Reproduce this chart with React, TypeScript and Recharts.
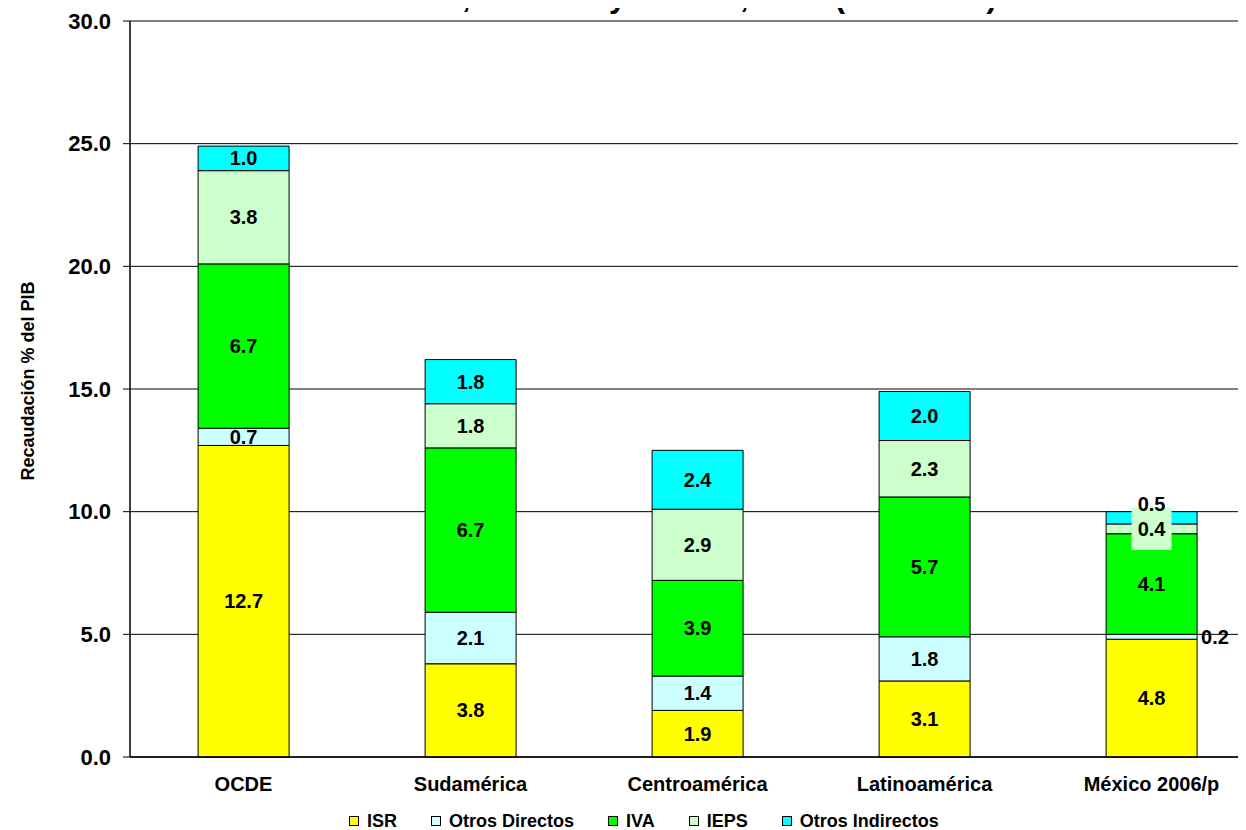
import React from 'react';
import { BarChart, Bar, XAxis, YAxis, CartesianGrid, Legend, Customized } from 'recharts';

const categories = ['OCDE', 'Sudamérica', 'Centroamérica', 'Latinoamérica', 'México 2006/p'];
const isr = [12.7, 3.8, 1.9, 3.1, 4.8];
const otrosDirectos = [0.7, 2.1, 1.4, 1.8, 0.2];
const iva = [6.7, 6.7, 3.9, 5.7, 4.1];
const ieps = [3.8, 1.8, 2.9, 2.3, 0.4];
const otrosIndirectos = [1.0, 1.8, 2.4, 2.0, 0.5];
const yTicks = [0, 5, 10, 15, 20, 25, 30];
const titleText = 'de la OCDE, América y México, 2004 (% del PIB)';
const yAxisTitle = 'Recaudación % del PIB';

const series = [
  { key: 'isr', name: 'ISR', color: '#FFFF00' },
  { key: 'od', name: 'Otros Directos', color: '#CCFFFF' },
  { key: 'iva', name: 'IVA', color: '#00FF00' },
  { key: 'ieps', name: 'IEPS', color: '#CCFFCC' },
  { key: 'oi', name: 'Otros Indirectos', color: '#00FFFF' },
];

const data = categories.map((c, i) => ({
  name: c,
  isr: isr[i],
  od: otrosDirectos[i],
  iva: iva[i],
  ieps: ieps[i],
  oi: otrosIndirectos[i],
}));

const FONT = '"Liberation Sans", Arial, sans-serif';

const makeLabel = (key: string) => (props: any) => {
  const vb = props.viewBox || {};
  const x = props.x ?? vb.x;
  const y = props.y ?? vb.y;
  const w = props.width ?? vb.width;
  const h = props.height ?? vb.height;
  const idx = props.index;
  const row: any = data[idx];
  if (!row) return null;
  const txt = Number(row[key]).toFixed(1);
  const style = { fontFamily: FONT, fontWeight: 700, fontSize: 20, fill: '#000' };
  const cx = x + w / 2;
  const cy = y + h / 2;
  const isLast = idx === categories.length - 1;
  if (isLast && key === 'od') {
    return (
      <text x={x + w + 4} y={cy} dominantBaseline="central" textAnchor="start" style={style}>
        {txt}
      </text>
    );
  }
  if (isLast && key === 'oi') {
    return (
      <text x={cx} y={y - 8} dominantBaseline="central" textAnchor="middle" style={style}>
        {txt}
      </text>
    );
  }
  if (isLast && key === 'ieps') {
    return (
      <g>
        <rect x={cx - 20} y={cy - 21} width={40} height={42} fill="#CCFFCC" />
        <text x={cx} y={cy} dominantBaseline="central" textAnchor="middle" style={style}>
          {txt}
        </text>
      </g>
    );
  }
  return (
    <text x={cx} y={cy} dominantBaseline="central" textAnchor="middle" style={style}>
      {txt}
    </text>
  );
};

const LegendContent = () => (
  <div style={{ display: 'flex', alignItems: 'center', gap: 34, fontFamily: FONT, fontWeight: 700, fontSize: 18, lineHeight: '16px', color: '#000', whiteSpace: 'nowrap' }}>
    {series.map((s) => (
      <div key={s.key} style={{ display: 'flex', alignItems: 'center' }}>
        <span style={{ display: 'inline-block', width: 8, height: 8, background: s.color, border: '1px solid #000', marginRight: 8 }} />
        <span>{s.name}</span>
      </div>
    ))}
  </div>
);

const Title = () => (
  <text x={645} y={7} textAnchor="middle" style={{ fontFamily: FONT, fontWeight: 700, fontSize: 31, fill: '#000' }}>
    {titleText}
  </text>
);

const YTitle = (props: any) => {
  const vb = props.viewBox || {};
  const cy = vb.y + vb.height / 2 - 8;
  return (
    <text
      x={28}
      y={cy}
      transform={`rotate(-90 28 ${cy})`}
      textAnchor="middle"
      dominantBaseline="central"
      style={{ fontFamily: FONT, fontWeight: 700, fontSize: 18, fill: '#000' }}
    >
      {yAxisTitle}
    </text>
  );
};

export default function App() {
  return (
    <div style={{ position: 'relative', width: 1246, height: 830, overflow: 'hidden', marginTop: -8, marginLeft: -8, background: '#fff' }}>
      <BarChart
        width={1270}
        height={830}
        data={data}
        margin={{ top: 21, right: 5, bottom: 0, left: 0 }}
        barCategoryGap="30%"
      >
        <CartesianGrid vertical={false} stroke="#000" strokeWidth={1} />
        <XAxis
          dataKey="name"
          height={73}
          tickLine={false}
          axisLine={{ stroke: '#000', strokeWidth: 1.5 }}
          tickMargin={14}
          tick={{ fontFamily: FONT, fontWeight: 700, fontSize: 20, fill: '#000' }}
        />
        <YAxis
          width={130}
          domain={[0, 30]}
          ticks={yTicks}
          interval={0}
          tickFormatter={(v: number) => v.toFixed(1)}
          tickSize={7}
          tickMargin={12}
          tickLine={{ stroke: '#000' }}
          axisLine={{ stroke: '#000', strokeWidth: 1.5 }}
          tick={{ fontFamily: FONT, fontWeight: 700, fontSize: 22, fill: '#000' }}
          label={{ content: YTitle }}
        />
        <Legend
          layout="horizontal"
          verticalAlign="middle"
          wrapperStyle={{ position: 'absolute', top: 813, left: 349, width: 'auto' }}
          content={LegendContent}
        />
        {series.map((s) => (
          <Bar
            key={s.key}
            dataKey={s.key}
            name={s.name}
            stackId="a"
            fill={s.color}
            stroke="#000"
            strokeWidth={1}
            isAnimationActive={false}
            label={makeLabel(s.key)}
          />
        ))}
        <Customized component={Title} />
      </BarChart>
    </div>
  );
}
